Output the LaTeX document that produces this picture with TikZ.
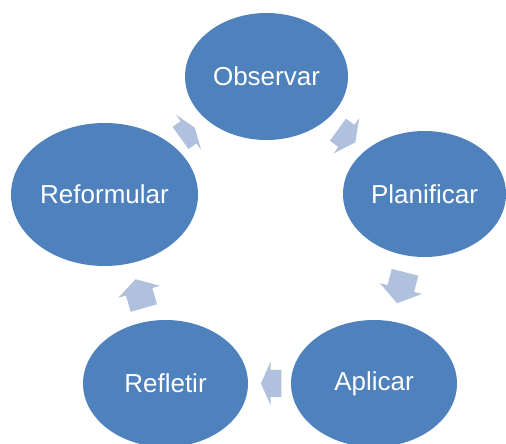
\documentclass[tikz,border=0pt]{standalone}
\usepackage{fontspec}
\setmainfont{Liberation Sans}
\usetikzlibrary{shapes.geometric,shapes.arrows}
\definecolor{nodeblue}{HTML}{4F81BD}
\definecolor{arrowblue}{HTML}{B0C1DD}
\tikzset{
  cyclenode/.style={ellipse, fill=nodeblue, text=white, inner sep=0pt,
    font=\fontsize{26}{30}\selectfont},
  cyclearrow/.style={single arrow, fill=arrowblue, draw=none, inner sep=0pt,
    text height=13.5pt, text depth=13.5pt, text width=0pt,
    single arrow head extend=8pt, anchor=tip}
}
\begin{document}
\begin{tikzpicture}[x=1pt,y=-1pt]
\useasboundingbox (0,0) rectangle (506,444);
\node[cyclenode, minimum width=163pt, minimum height=127pt] (obs) at (266.5,76.5) {Observar};
\node[cyclenode, minimum width=163pt, minimum height=126pt] (pla) at (424.5,194) {Planificar};
\node[cyclenode, minimum width=166pt, minimum height=127pt] (apl) at (374,383.5) {Aplicar};
\node[cyclenode, minimum width=165pt, minimum height=127pt] (ref) at (165.5,383.5) {Refletir};
\node[cyclenode, minimum width=187pt, minimum height=143pt] (rfm) at (104.5,194.5) {Reformular};
% block arrows of the cycle
\node[cyclearrow, minimum height=21.5pt, single arrow tip angle=126, rotate=-36] (a1) at (355.5,142.5) {};
\node[cyclearrow, minimum height=32pt, single arrow tip angle=110, rotate=255.6] (a2) at (397,303.5) {};
\node[cyclearrow, minimum height=20.5pt, single arrow tip angle=132, rotate=180] (a3) at (260.7,383.5) {};
\node[cyclearrow, minimum height=30pt, single arrow tip angle=118, rotate=106] (a4) at (135.5,279) {};
\node[cyclearrow, minimum height=17.5pt, single arrow tip angle=141, rotate=35.5] (a5) at (195,127.7) {};
\end{tikzpicture}
\end{document}
